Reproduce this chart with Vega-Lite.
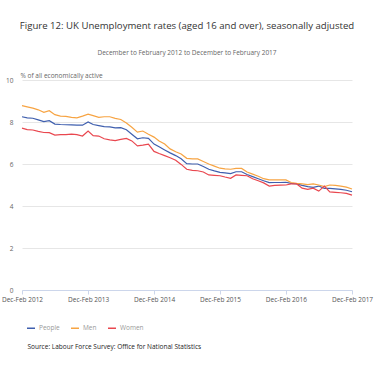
{
  "$schema": "https://vega.github.io/schema/vega-lite/v6.json",
  "width": 330,
  "height": 210,
  "autosize": {"type": "none"},
  "padding": {"left": 22, "top": 80, "right": 22, "bottom": 80},
  "background": "white",
  "title": {
    "text": "Figure 12: UK Unemployment rates (aged 16 and over), seasonally adjusted",
    "subtitle": "December to February 2012 to December to February 2017",
    "anchor": "middle",
    "frame": "group",
    "font": "Open Sans",
    "fontSize": 9.6,
    "fontWeight": "normal",
    "color": "#333333",
    "subtitleFont": "Open Sans",
    "subtitleFontSize": 6.5,
    "subtitleColor": "#666666",
    "subtitlePadding": 19,
    "offset": 16
  },
  "config": {
    "view": {"stroke": null},
    "font": "Open Sans"
  },
  "data": {
    "values": [
      {"date": "2012-02-01", "People": 8.25, "Men": 8.78, "Women": 7.71},
      {"date": "2012-03-01", "People": 8.2, "Men": 8.72, "Women": 7.64},
      {"date": "2012-04-01", "People": 8.18, "Men": 8.66, "Women": 7.62},
      {"date": "2012-05-01", "People": 8.1, "Men": 8.58, "Women": 7.55},
      {"date": "2012-06-01", "People": 8.02, "Men": 8.46, "Women": 7.5},
      {"date": "2012-07-01", "People": 8.06, "Men": 8.54, "Women": 7.49},
      {"date": "2012-08-01", "People": 7.9, "Men": 8.35, "Women": 7.38},
      {"date": "2012-09-01", "People": 7.88, "Men": 8.28, "Women": 7.4},
      {"date": "2012-10-01", "People": 7.87, "Men": 8.27, "Women": 7.4},
      {"date": "2012-11-01", "People": 7.86, "Men": 8.22, "Women": 7.42},
      {"date": "2012-12-01", "People": 7.85, "Men": 8.2, "Women": 7.4},
      {"date": "2013-01-01", "People": 7.85, "Men": 8.28, "Women": 7.33},
      {"date": "2013-02-01", "People": 8.0, "Men": 8.37, "Women": 7.57},
      {"date": "2013-03-01", "People": 7.88, "Men": 8.3, "Women": 7.35},
      {"date": "2013-04-01", "People": 7.83, "Men": 8.22, "Women": 7.33},
      {"date": "2013-05-01", "People": 7.78, "Men": 8.25, "Women": 7.2},
      {"date": "2013-06-01", "People": 7.77, "Men": 8.25, "Women": 7.15},
      {"date": "2013-07-01", "People": 7.72, "Men": 8.17, "Women": 7.11},
      {"date": "2013-08-01", "People": 7.73, "Men": 8.12, "Women": 7.17},
      {"date": "2013-09-01", "People": 7.63, "Men": 7.95, "Women": 7.22},
      {"date": "2013-10-01", "People": 7.42, "Men": 7.75, "Women": 7.1},
      {"date": "2013-11-01", "People": 7.2, "Men": 7.52, "Women": 6.86},
      {"date": "2013-12-01", "People": 7.25, "Men": 7.57, "Women": 6.9},
      {"date": "2014-01-01", "People": 7.22, "Men": 7.42, "Women": 6.95},
      {"date": "2014-02-01", "People": 6.95, "Men": 7.28, "Women": 6.6},
      {"date": "2014-03-01", "People": 6.82, "Men": 7.1, "Women": 6.5},
      {"date": "2014-04-01", "People": 6.67, "Men": 6.95, "Women": 6.4},
      {"date": "2014-05-01", "People": 6.53, "Men": 6.72, "Women": 6.3},
      {"date": "2014-06-01", "People": 6.4, "Men": 6.58, "Women": 6.18},
      {"date": "2014-07-01", "People": 6.25, "Men": 6.48, "Women": 5.98},
      {"date": "2014-08-01", "People": 6.02, "Men": 6.27, "Women": 5.75},
      {"date": "2014-09-01", "People": 6.0, "Men": 6.24, "Women": 5.7},
      {"date": "2014-10-01", "People": 6.0, "Men": 6.24, "Women": 5.68},
      {"date": "2014-11-01", "People": 5.88, "Men": 6.12, "Women": 5.62},
      {"date": "2014-12-01", "People": 5.75, "Men": 6.0, "Women": 5.48},
      {"date": "2015-01-01", "People": 5.67, "Men": 5.9, "Women": 5.46},
      {"date": "2015-02-01", "People": 5.6, "Men": 5.8, "Women": 5.44},
      {"date": "2015-03-01", "People": 5.58, "Men": 5.77, "Women": 5.38},
      {"date": "2015-04-01", "People": 5.54, "Men": 5.75, "Women": 5.32},
      {"date": "2015-05-01", "People": 5.63, "Men": 5.79, "Women": 5.48},
      {"date": "2015-06-01", "People": 5.63, "Men": 5.79, "Women": 5.46},
      {"date": "2015-07-01", "People": 5.5, "Men": 5.62, "Women": 5.44},
      {"date": "2015-08-01", "People": 5.4, "Men": 5.52, "Women": 5.3},
      {"date": "2015-09-01", "People": 5.3, "Men": 5.42, "Women": 5.2},
      {"date": "2015-10-01", "People": 5.2, "Men": 5.3, "Women": 5.1},
      {"date": "2015-11-01", "People": 5.11, "Men": 5.24, "Women": 4.95},
      {"date": "2015-12-01", "People": 5.12, "Men": 5.24, "Women": 4.98},
      {"date": "2016-01-01", "People": 5.12, "Men": 5.24, "Women": 4.99},
      {"date": "2016-02-01", "People": 5.13, "Men": 5.24, "Women": 5.0},
      {"date": "2016-03-01", "People": 5.08, "Men": 5.12, "Women": 5.05},
      {"date": "2016-04-01", "People": 5.05, "Men": 5.08, "Women": 5.05},
      {"date": "2016-05-01", "People": 4.98, "Men": 5.05, "Women": 4.85},
      {"date": "2016-06-01", "People": 4.92, "Men": 5.02, "Women": 4.79},
      {"date": "2016-07-01", "People": 4.89, "Men": 5.05, "Women": 4.85},
      {"date": "2016-08-01", "People": 4.95, "Men": 5.0, "Women": 4.71},
      {"date": "2016-09-01", "People": 4.84, "Men": 4.92, "Women": 4.95},
      {"date": "2016-10-01", "People": 4.84, "Men": 5.0, "Women": 4.67},
      {"date": "2016-11-01", "People": 4.82, "Men": 4.98, "Women": 4.65},
      {"date": "2016-12-01", "People": 4.79, "Men": 4.95, "Women": 4.63},
      {"date": "2017-01-01", "People": 4.75, "Men": 4.9, "Women": 4.6},
      {"date": "2017-02-01", "People": 4.68, "Men": 4.81, "Women": 4.52}
    ]
  },
  "transform": [
    {"fold": ["People", "Men", "Women"], "as": ["series", "rate"]}
  ],
  "mark": {"type": "line", "strokeWidth": 1.2, "interpolate": "linear"},
  "encoding": {
    "x": {
      "field": "date",
      "type": "temporal",
      "scale": {
        "type": "utc",
        "nice": false,
        "domain": [
          {"year": 2012, "month": 2, "date": 1, "utc": true},
          {"year": 2017, "month": 2, "date": 1, "utc": true}
        ]
      },
      "axis": {
        "values": [
          {"year": 2012, "month": 2, "date": 1, "utc": true},
          {"year": 2013, "month": 2, "date": 1, "utc": true},
          {"year": 2014, "month": 2, "date": 1, "utc": true},
          {"year": 2015, "month": 2, "date": 1, "utc": true},
          {"year": 2016, "month": 2, "date": 1, "utc": true},
          {"year": 2017, "month": 2, "date": 1, "utc": true}
        ],
        "labelExpr": "'Dec-Feb ' + utcFormat(datum.value, '%Y')",
        "grid": false,
        "domainColor": "#ccd6eb",
        "tickColor": "#ccd6eb",
        "tickSize": 4,
        "labelFont": "Open Sans",
        "labelFontSize": 6.5,
        "labelColor": "#555555",
        "labelPadding": 2,
        "labelFlush": false,
        "title": "Source: Labour Force Survey: Office for National Statistics",
        "titleFont": "Open Sans",
        "titleFontSize": 6.5,
        "titleFontWeight": "normal",
        "titleColor": "#222222",
        "titleAlign": "left",
        "titleBaseline": "alphabetic",
        "titleX": 5,
        "titleY": 58
      }
    },
    "y": {
      "field": "rate",
      "type": "quantitative",
      "scale": {"domain": [0, 10], "nice": false, "zero": true},
      "axis": {
        "values": [0, 2, 4, 6, 8, 10],
        "domain": false,
        "ticks": false,
        "gridColor": "#e6e6e6",
        "gridWidth": 1,
        "labelFont": "Open Sans",
        "labelFontSize": 6.5,
        "labelColor": "#666666",
        "labelPadding": 9,
        "title": "% of all economically active",
        "titleFont": "Open Sans",
        "titleFontSize": 6.5,
        "titleFontWeight": "normal",
        "titleColor": "#666666",
        "titleAngle": 0,
        "titleAlign": "left",
        "titleBaseline": "alphabetic",
        "titleX": -2,
        "titleY": -3
      }
    },
    "color": {
      "field": "series",
      "type": "nominal",
      "scale": {
        "domain": ["People", "Men", "Women"],
        "range": ["#3f5fae", "#f7a443", "#e9474f"]
      },
      "legend": {
        "title": null,
        "orient": "none",
        "legendX": 4,
        "legendY": 243,
        "direction": "horizontal",
        "symbolType": "stroke",
        "symbolStrokeWidth": 1.5,
        "symbolSize": 64,
        "labelFont": "Open Sans",
        "labelFontSize": 6.5,
        "labelColor": "#999999",
        "columnPadding": 8,
        "labelOffset": 3
      }
    }
  }
}
